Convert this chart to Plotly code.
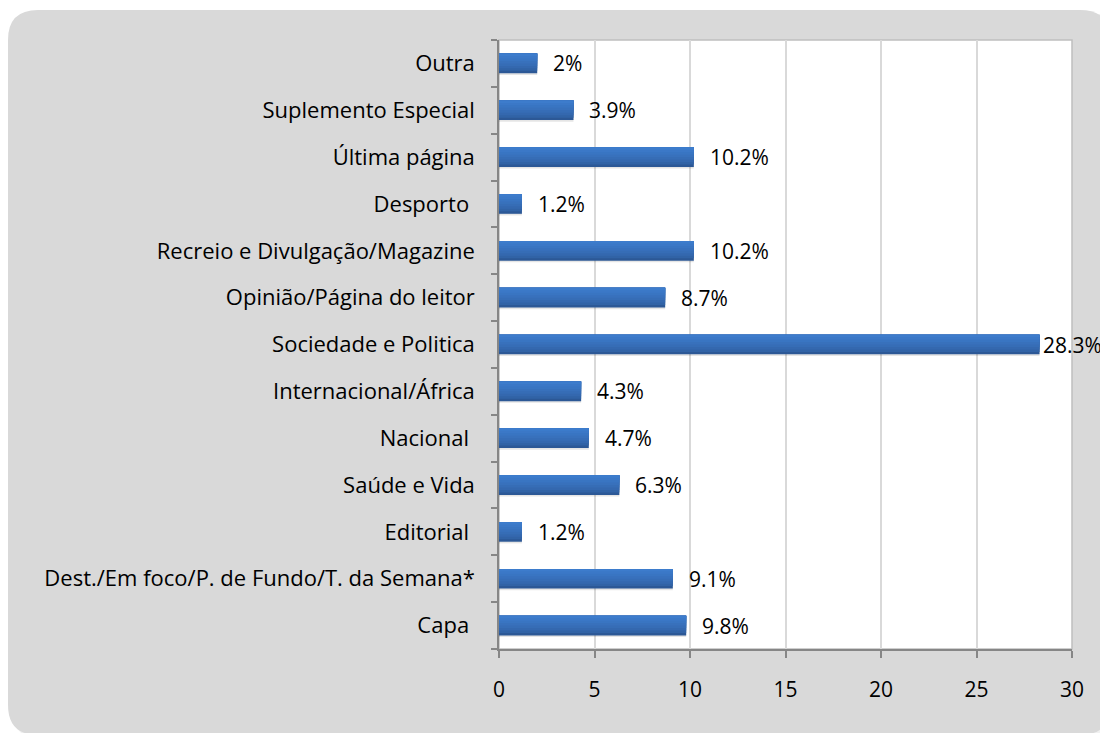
import plotly.graph_objects as go

categories = ["Capa\u00a0", "Dest./Em foco/P. de Fundo/T. da Semana*", "Editorial\u00a0", "Saúde e Vida",
              "Nacional\u00a0", "Internacional/África", "Sociedade e Politica", "Opinião/Página do leitor",
              "Recreio e Divulgação/Magazine", "Desporto\u00a0", "Última página", "Suplemento Especial", "Outra"]
values = [9.8, 9.1, 1.2, 6.3, 4.7, 4.3, 28.3, 8.7, 10.2, 1.2, 10.2, 3.9, 2]
labels = ["9.8%", "9.1%", "1.2%", "6.3%", "4.7%", "4.3%", "28.3%", "8.7%", "10.2%", "1.2%", "10.2%", "3.9%", "2%"]
x_ticks = [0, 5, 10, 15, 20, 25, 30]

OFF = 8  # page body margin
W, H = 1108 - OFF, 733 - OFF
L, R, T, B = 499 - OFF, 1072 - OFF, 40 - OFF, 649 - OFF
FONT = "Open Sans"
FS = 22

def px(x):
    return (x - OFF - L) / (R - L)

def py(y):
    return (B - (y - OFF)) / (B - T)

fig = go.Figure()

bar_w = 0.42
# shadow
fig.add_trace(go.Bar(y=categories, x=values, orientation="h", width=bar_w, offset=-bar_w / 2 - 0.035,
                     marker=dict(color="rgba(0,0,0,0.10)", line=dict(width=0)), hoverinfo="skip", showlegend=False))
# gradient strips
n = 8
c_bot = (44, 88, 150)
c_top = (61, 124, 204)
for i in range(n):
    t = (i / (n - 1)) ** 0.6
    col = tuple(int(c_bot[k] + (c_top[k] - c_bot[k]) * t) for k in range(3))
    sw = bar_w * (n - i) / n
    fig.add_trace(go.Bar(y=categories, x=values, orientation="h", width=sw, offset=bar_w / 2 - sw,
                         marker=dict(color="rgb(%d,%d,%d)" % col, line=dict(width=0)),
                         hoverinfo="x+y" if i == 0 else "skip", showlegend=False))

annotations = []
for c, v, lab in zip(categories, values, labels):
    annotations.append(dict(x=v, y=c, xref="x", yref="y", text=lab, showarrow=False,
                            xanchor="left", yanchor="middle", xshift=1 if v > 27 else 14,
                            font=dict(family=FONT, size=FS - 1, color="#000000")))

r = 30
x0, x1, y0, y1 = 8, 1110, 10, 735
path = (f"M {px(x0 + r)},{py(y0)} L {px(x1 - r)},{py(y0)} Q {px(x1)},{py(y0)} {px(x1)},{py(y0 + r)} "
        f"L {px(x1)},{py(y1 - r)} Q {px(x1)},{py(y1)} {px(x1 - r)},{py(y1)} "
        f"L {px(x0 + r)},{py(y1)} Q {px(x0)},{py(y1)} {px(x0)},{py(y1 - r)} "
        f"L {px(x0)},{py(y0 + r)} Q {px(x0)},{py(y0)} {px(x0 + r)},{py(y0)} Z")
shapes = [
    dict(type="path", xref="paper", yref="paper", layer="below",
         path=(f"M {px(x0 + r + 4)},{py(y0 + 4)} L {px(x1)},{py(y0 + 4)} L {px(x1)},{py(y1 + 4)} "
               f"L {px(x0 + r + 4)},{py(y1 + 4)} Q {px(x0 + 4)},{py(y1 + 4)} {px(x0 + 4)},{py(y1 - r + 4)} "
               f"L {px(x0 + 4)},{py(y0 + r)} Z"),
         fillcolor="rgba(0,0,0,0.06)", line=dict(width=0)),
    dict(type="path", xref="paper", yref="paper", layer="below", path=path,
         fillcolor="#D9D9D9", line=dict(width=0)),
    dict(type="rect", xref="paper", yref="paper", layer="below", x0=0, x1=1, y0=0, y1=1,
         fillcolor="#FFFFFF", line=dict(color="#BFBFBF", width=1.5)),
]

fig.update_layout(
    width=W, height=H,
    margin=dict(l=L, r=W - R, t=T, b=H - B, pad=0),
    paper_bgcolor="#FFFFFF", plot_bgcolor="rgba(0,0,0,0)",
    barmode="overlay",
    showlegend=False,
    annotations=annotations,
    shapes=shapes,
    font=dict(family=FONT, size=FS, color="#000000"),
    xaxis=dict(range=[0, 30], tickvals=x_ticks, ticktext=[str(t) for t in x_ticks],
               showgrid=True, gridcolor="#D9D9D9", gridwidth=1.5, zeroline=False,
               showline=True, linecolor="#868686", linewidth=1.5,
               ticks="outside", ticklen=7, tickcolor="#868686", tickwidth=1.5,
               ticklabelstandoff=14,
               tickfont=dict(family=FONT, size=FS - 1, color="#000000"), fixedrange=True),
    yaxis=dict(categoryorder="array", categoryarray=categories, showgrid=False, zeroline=False,
               showline=True, linecolor="#868686", linewidth=1.5,
               ticks="outside", ticklen=6, tickcolor="#868686", tickwidth=1.5, tickson="boundaries",
               ticklabelstandoff=18,
               tickfont=dict(family=FONT, size=FS, color="#000000"), fixedrange=True),
)

fig.write_html("out.html")
